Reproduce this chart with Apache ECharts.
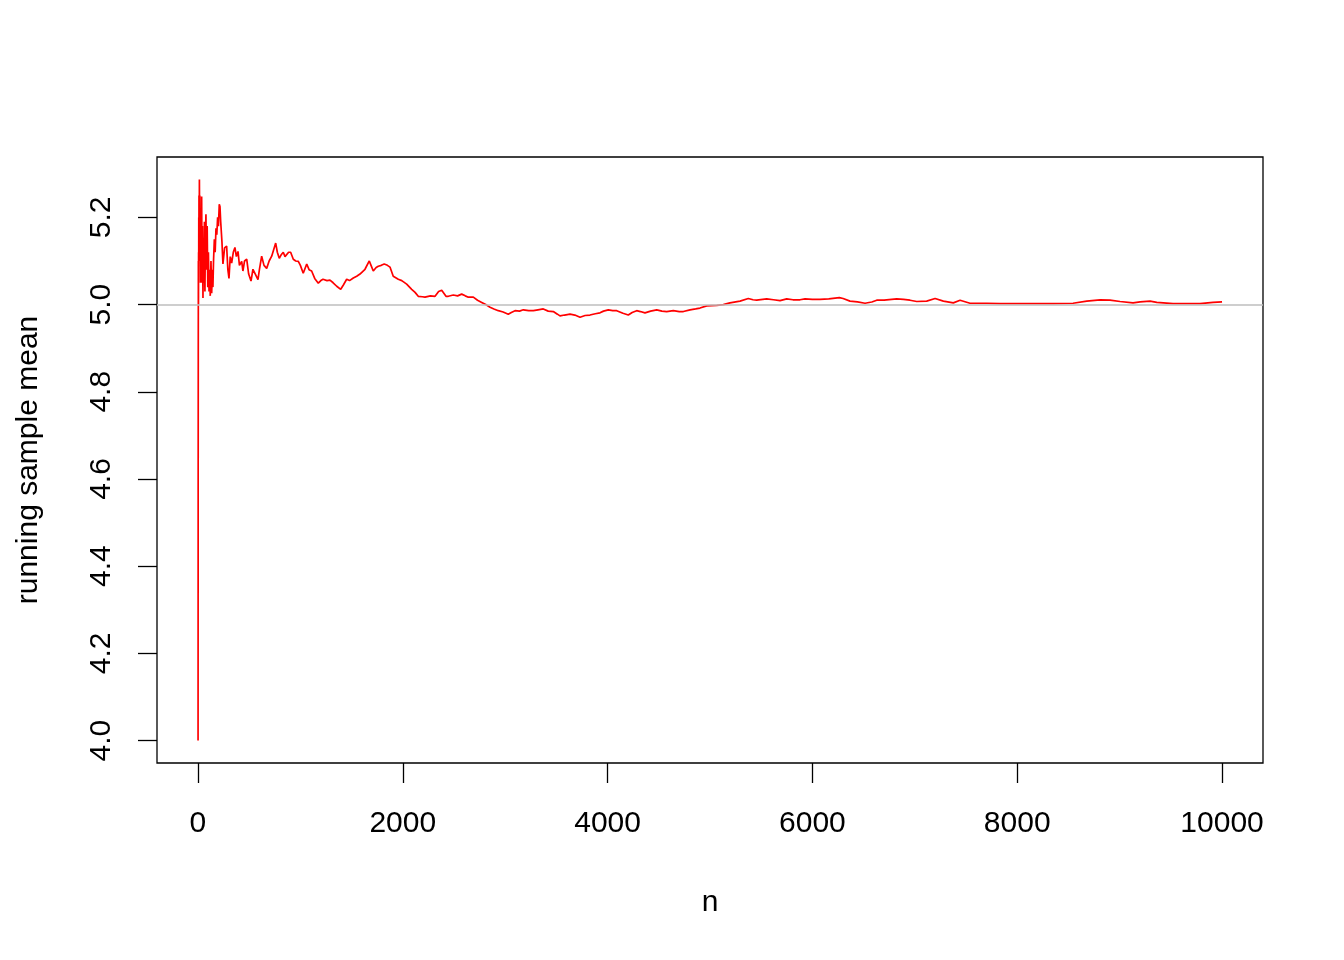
<!DOCTYPE html>
<html>
<head>
<meta charset="utf-8">
<script src="https://cdn.jsdelivr.net/npm/echarts@6/dist/echarts.min.js"></script>
<style>
html,body{margin:0;padding:0;background:#fff;}
#chart{width:1344px;height:960px;}
</style>
</head>
<body>
<div id="chart"></div>
<script>
// sample size n
const nValues = [
  1,2,3,4,5,6,7,8,9,10,12,14,16,18,20,23,26,29,32,36,40,44,49,53,58,63,68,73,78,84,90,96,102,108,114,120,127,134,140,146,152,160,168,176,184,192,200,208,215,222,234,244,260,280,292,303,315,329,345,361,375,391,405,427,439,455,476,495,518,537,560,586,600,622,645,671,695,720,759,775,794,815,833,850,866,885,905,931,955,980,1000,1028,1062,1085,1110,1140,1175,1200,1221,1260,1289,1320,1355,1394,1420,1452,1480,1517,1550,1582,1631,1673,1690,1712,1740,1761,1790,1819,1850,1875,1907,1956,1990,2038,2087,2120,2151,2190,2217,2270,2315,2350,2380,2422,2444,2493,2535,2575,2610,2640,2689,2730,2771,2810,2852,2890,2933,2980,3030,3060,3096,3140,3177,3230,3275,3320,3372,3420,3470,3510,3535,3580,3633,3680,3731,3780,3828,3880,3926,3960,4007,4050,4089,4150,4202,4240,4284,4320,4365,4420,4480,4530,4577,4642,4700,4740,4805,4860,4902,4968,5066,5130,5195,5293,5374,5420,5456,5554,5620,5684,5749,5810,5879,5928,6000,6074,6160,6263,6300,6367,6440,6514,6580,6628,6700,6823,6890,6953,7019,7116,7198,7279,7376,7442,7539,7620,7702,7832,8000,8155,8350,8545,8679,8809,8906,9004,9131,9200,9297,9363,9522,9650,9785,9912,10000
];
// running sample mean at each n
const runningMean = [
  4.0,4.57,4.88,5.1,5.0,5.12,5.05,5.2,5.1,5.25,5.13,5.287,5.18,5.25,5.12,5.2,5.05,5.22,5.1,5.248,5.05,5.18,5.015,5.15,5.05,5.19,5.03,5.16,5.207,5.08,5.18,5.04,5.12,5.03,5.08,5.02,5.1,5.026,5.08,5.04,5.1,5.15,5.12,5.175,5.16,5.2,5.18,5.23,5.225,5.19,5.145,5.093,5.13,5.134,5.08,5.06,5.11,5.095,5.12,5.131,5.11,5.122,5.09,5.099,5.077,5.1,5.104,5.07,5.054,5.081,5.07,5.057,5.08,5.111,5.09,5.083,5.1,5.111,5.141,5.12,5.106,5.115,5.12,5.11,5.111,5.12,5.12,5.104,5.1,5.099,5.09,5.072,5.093,5.08,5.077,5.06,5.049,5.055,5.058,5.055,5.056,5.05,5.042,5.035,5.045,5.058,5.055,5.061,5.065,5.07,5.081,5.1,5.09,5.077,5.085,5.088,5.09,5.093,5.09,5.086,5.065,5.058,5.055,5.047,5.035,5.028,5.019,5.018,5.017,5.02,5.019,5.03,5.033,5.019,5.019,5.022,5.02,5.024,5.02,5.017,5.017,5.01,5.005,5.0,4.994,4.99,4.986,4.983,4.978,4.982,4.986,4.985,4.988,4.986,4.986,4.988,4.99,4.985,4.984,4.978,4.974,4.976,4.978,4.976,4.971,4.975,4.976,4.979,4.981,4.985,4.988,4.986,4.986,4.98,4.976,4.982,4.986,4.984,4.981,4.985,4.988,4.985,4.984,4.986,4.984,4.984,4.988,4.99,4.992,4.997,4.998,5.0,5.004,5.008,5.014,5.011,5.01,5.013,5.011,5.009,5.013,5.011,5.011,5.013,5.012,5.012,5.013,5.016,5.014,5.008,5.006,5.003,5.006,5.01,5.01,5.013,5.012,5.01,5.007,5.008,5.014,5.008,5.004,5.01,5.003,5.003,5.003,5.002,5.002,5.002,5.002,5.003,5.008,5.011,5.01,5.007,5.004,5.006,5.008,5.005,5.002,5.002,5.002,5.005,5.006
];
const xTicks = [0, 2000, 4000, 6000, 8000, 10000];
const yTicks = [4.0, 4.2, 4.4, 4.6, 4.8, 5.0, 5.2];
const trueMean = 5;

const FONT = 'Liberation Sans, Arial, Helvetica, sans-serif';
const lineData = nValues.map((n, i) => [n, runningMean[i]]);

const chart = echarts.init(document.getElementById('chart'), null, {renderer: 'canvas'});
chart.setOption({
  animation: false,
  backgroundColor: '#ffffff',
  grid: {
    left: 157, right: 81, top: 157, bottom: 197,
    show: true, borderColor: '#000000', borderWidth: 1.3, backgroundColor: 'transparent'
  },
  xAxis: {
    type: 'value', min: -400, max: 10400,
    name: 'n', nameLocation: 'middle', nameGap: 125,
    nameTextStyle: {fontFamily: FONT, fontSize: 30, color: '#000'},
    axisLine: {show: false, onZero: false},
    splitLine: {show: false},
    axisTick: {show: true, customValues: xTicks, length: 20, inside: false,
      lineStyle: {color: '#000', width: 1.3}},
    axisLabel: {customValues: xTicks, fontFamily: FONT, fontSize: 30, color: '#000', margin: 46,
      formatter: v => String(v)}
  },
  yAxis: {
    type: 'value', min: 3.9485, max: 5.3385, position: 'left',
    name: 'running sample mean', nameLocation: 'middle', nameGap: 113, nameRotate: 90,
    nameTextStyle: {fontFamily: FONT, fontSize: 30, color: '#000'},
    axisLine: {show: false, onZero: false},
    splitLine: {show: false},
    axisTick: {show: true, customValues: yTicks, length: 19, inside: false,
      lineStyle: {color: '#000', width: 1.3}},
    axisLabel: {customValues: yTicks, fontFamily: FONT, fontSize: 30, color: '#000', margin: 40,
      rotate: 90, formatter: v => v.toFixed(1)}
  },
  series: [{
    type: 'line',
    data: lineData,
    showSymbol: false,
    symbol: 'none',
    lineStyle: {color: '#ff0000', width: 1.7},
    z: 2,
    markLine: {
      silent: true, symbol: 'none',
      label: {show: false},
      lineStyle: {color: '#bebebe', width: 1.5, type: 'solid'},
      data: [{yAxis: trueMean}],
      z: 3
    }
  }]
});
</script>
</body>
</html>
